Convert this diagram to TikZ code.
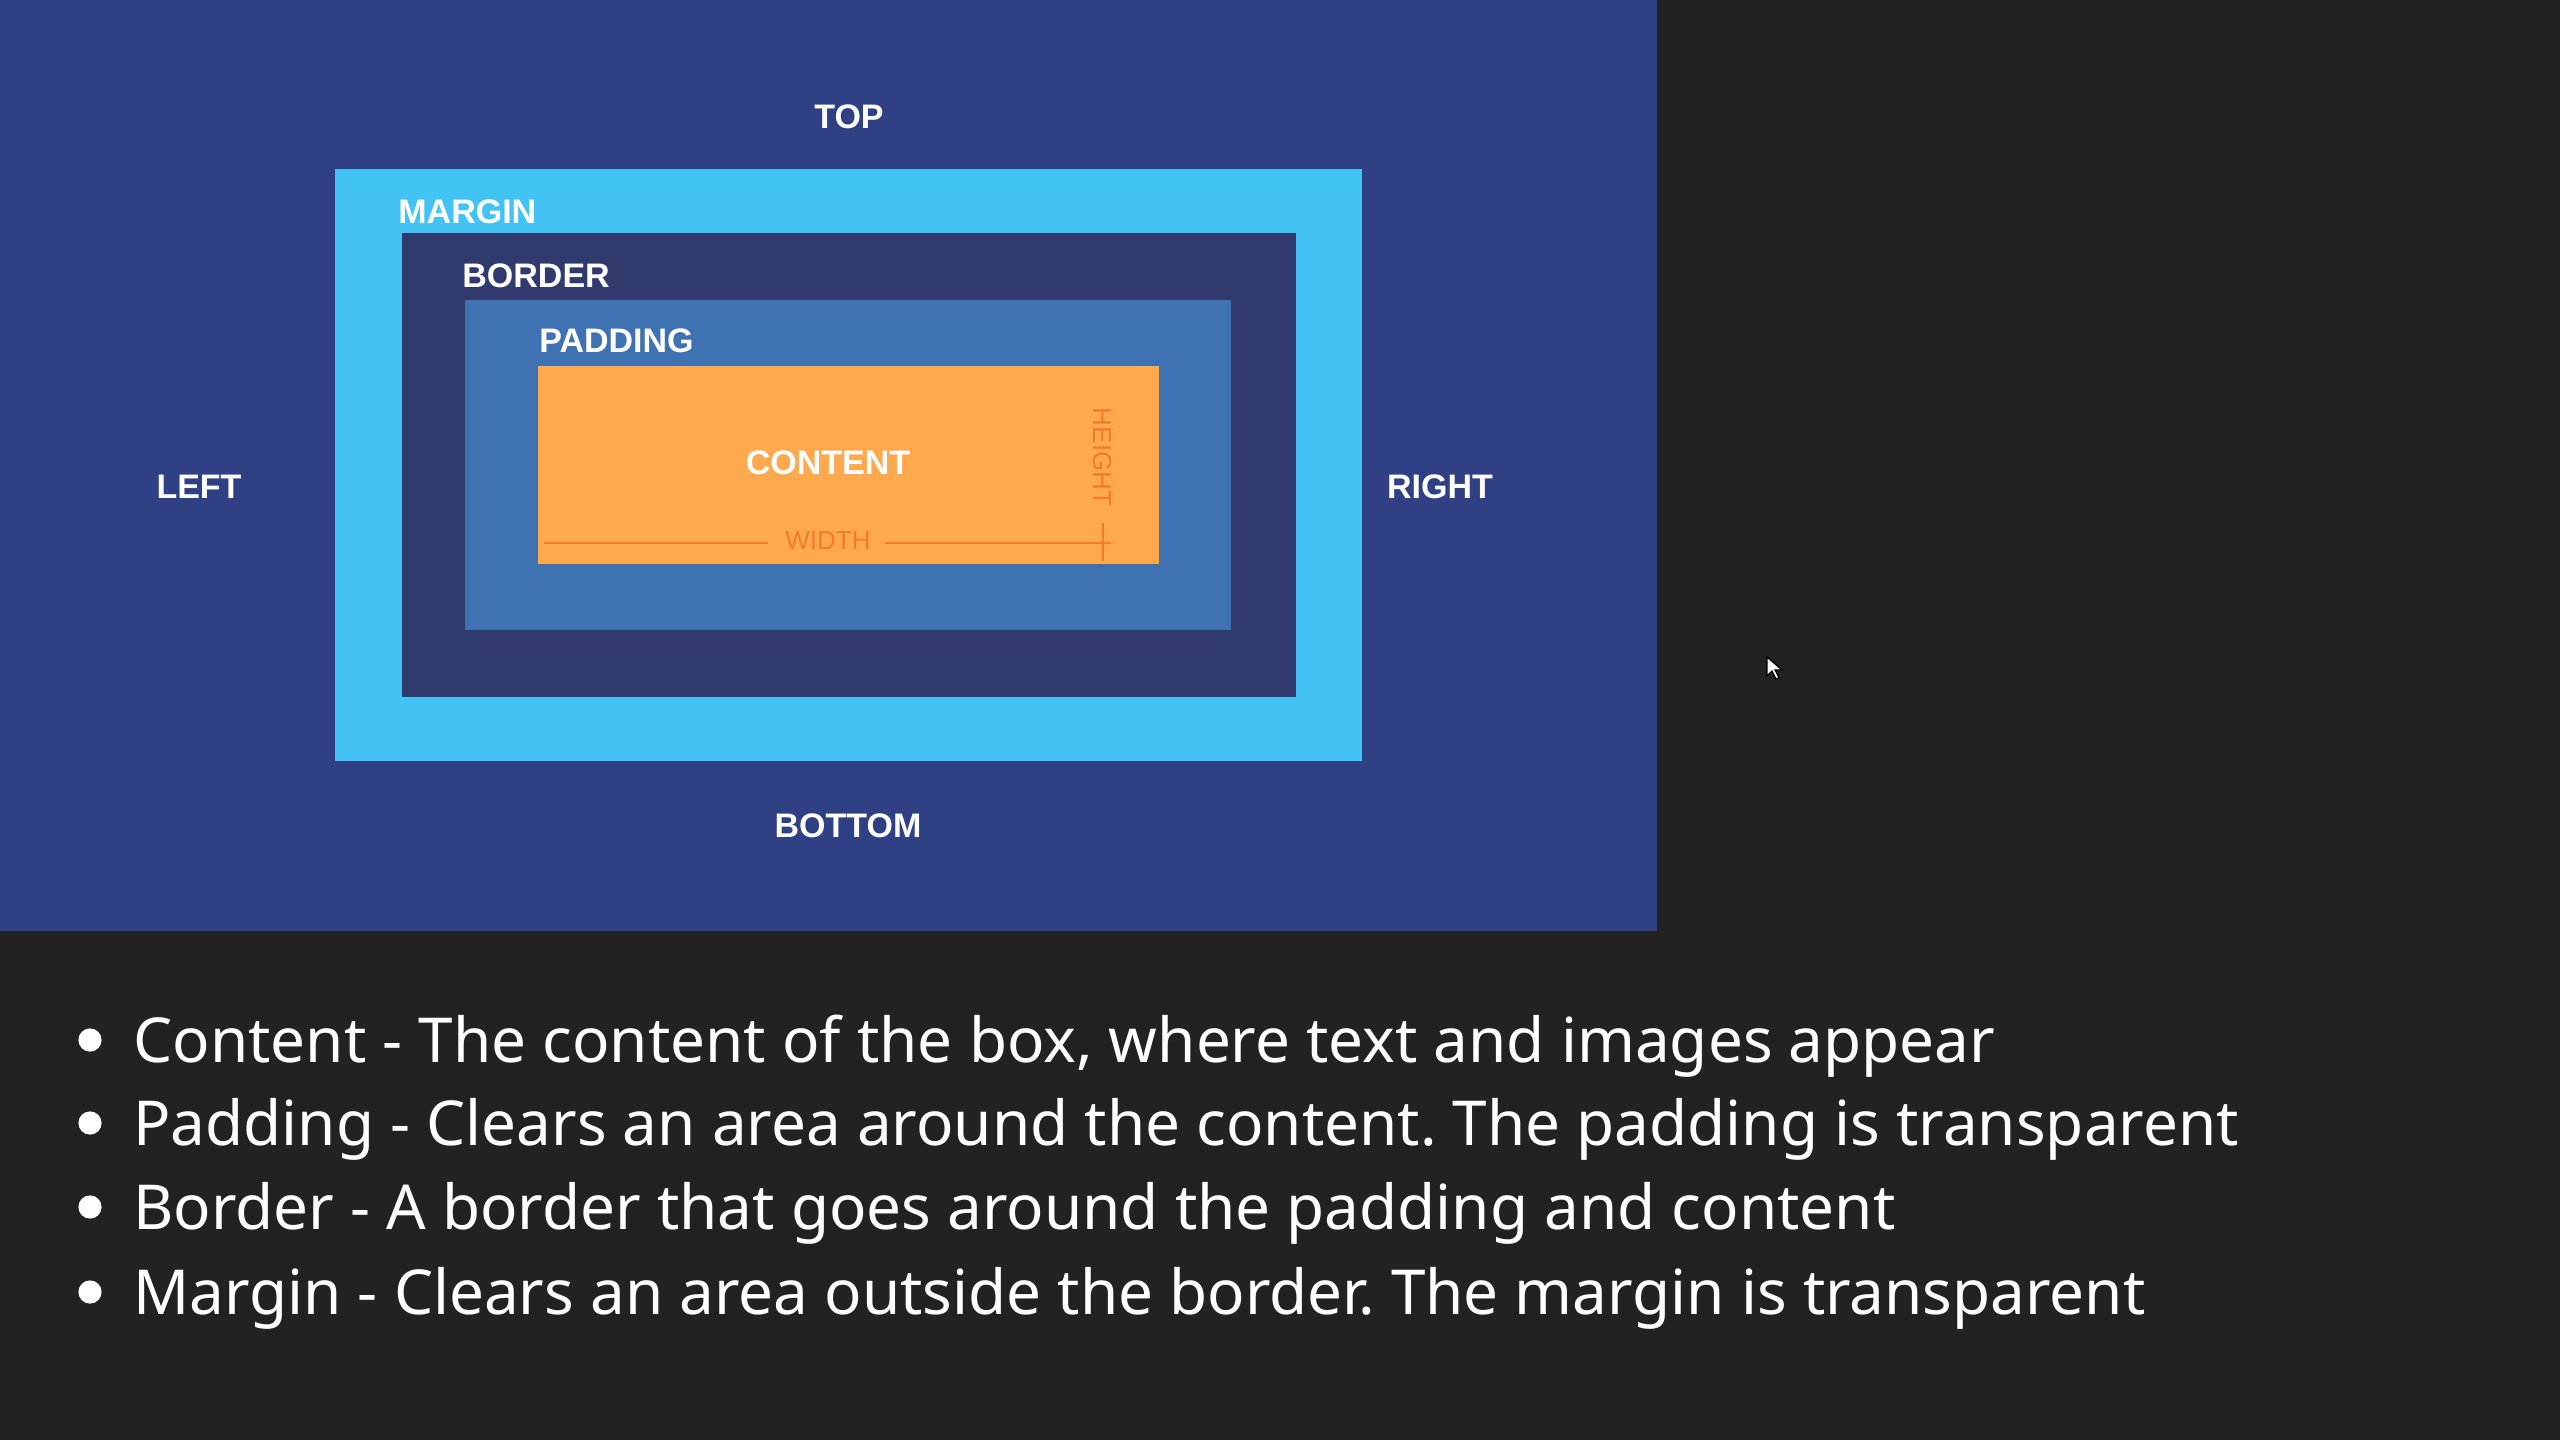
\documentclass[tikz,border=0pt]{standalone}
\usepackage{fontspec}
\setmainfont{Liberation Sans}
\newfontfamily\listfont{Noto Sans}
\frenchspacing
\definecolor{panelblue}{RGB}{47,64,133}
\definecolor{margincyan}{RGB}{66,195,244}
\definecolor{bordernavy}{RGB}{48,58,108}
\definecolor{paddingblue}{RGB}{63,114,178}
\definecolor{contentorange}{RGB}{255,169,78}
\definecolor{dimorange}{RGB}{244,122,44}
\definecolor{pagedark}{RGB}{34,34,34}
\tikzset{
  lbl/.style={text=white, font=\fontsize{17pt}{20pt}\selectfont\bfseries, inner sep=0pt, anchor=base},
  corner/.style={lbl, anchor=base west},
  dimlbl/.style={text=dimorange, font=\fontsize{13pt}{15pt}\selectfont, inner sep=0pt},
  dimline/.style={draw=dimorange, line width=1pt},
  item/.style={text=white, font=\listfont\fontsize{31pt}{36pt}\selectfont, inner sep=0pt, anchor=base west},
  dot/.style={fill=white},
}
\begin{document}
\begin{tikzpicture}[x=0.5pt, y=-0.5pt]
  \useasboundingbox (0,0) rectangle (2560,1440);
  % page and diagram panel
  \fill[pagedark] (0,0) rectangle (2560,1440);
  \fill[panelblue] (0,0) rectangle (1657,931);

  % nested boxes: margin, border, padding, content
  \fill[margincyan]    (335,169) rectangle (1362,761);
  \fill[bordernavy]    (402,233) rectangle (1296,697);
  \fill[paddingblue]   (465,300) rectangle (1231,630);
  \fill[contentorange] (538,366) rectangle (1159,564);

  % side labels
  \node[lbl] (top)    at (849,128) {TOP};
  \node[lbl] (bottom) at (848,837) {BOTTOM};
  \node[lbl] (left)   at (199,498) {LEFT};
  \node[lbl] (right)  at (1440,498) {RIGHT};

  % layer labels
  \node[corner] (margin)  at (398,223) {MARGIN};
  \node[corner] (border)  at (462,287) {BORDER};
  \node[corner] (padding) at (539,352) {PADDING};
  \node[lbl]    (content) at (828,474) {CONTENT};

  % width and height markers inside the content box
  \node[dimlbl, anchor=base] (width) at (828,549) {WIDTH};
  \node[dimlbl, rotate=-90] (height) at (1102,457) {HEIGHT};
  \coordinate (wl0) at (544,543);
  \coordinate (wl1) at (768,543);
  \coordinate (wr0) at (885,543);
  \coordinate (wr1) at (1111,543);
  \coordinate (ht0) at (1103,523);
  \coordinate (ht1) at (1103,561);
  \draw[dimline] (wl0) -- (wl1);
  \draw[dimline] (wr0) -- (wr1);
  \draw[dimline] (ht0) -- (ht1);

  % bullet list
  \foreach \y in {1040,1123,1207,1292} \fill[dot] (90,\y) circle (5.8pt);
  \node[item] (l1) at (133,1062) {Content - The content of the box, where text and images appear};
  \node[item] (l2) at (133,1145) {Padding - Clears an area around the content. The padding is transparent};
  \node[item] (l3) at (133,1229) {Border - A border that goes around the padding and content};
  \node[item] (l4) at (133,1314) {Margin - Clears an area outside the border. The margin is transparent};

  % mouse pointer
  \filldraw[fill=white, draw=black, line width=0.6pt, line join=miter]
    (1767,657) -- ++(0,19) -- ++(5,-5) -- ++(4,8) -- ++(3,-1.5) -- ++(-4,-7.5) -- ++(7,0) -- cycle;
\end{tikzpicture}
\end{document}
